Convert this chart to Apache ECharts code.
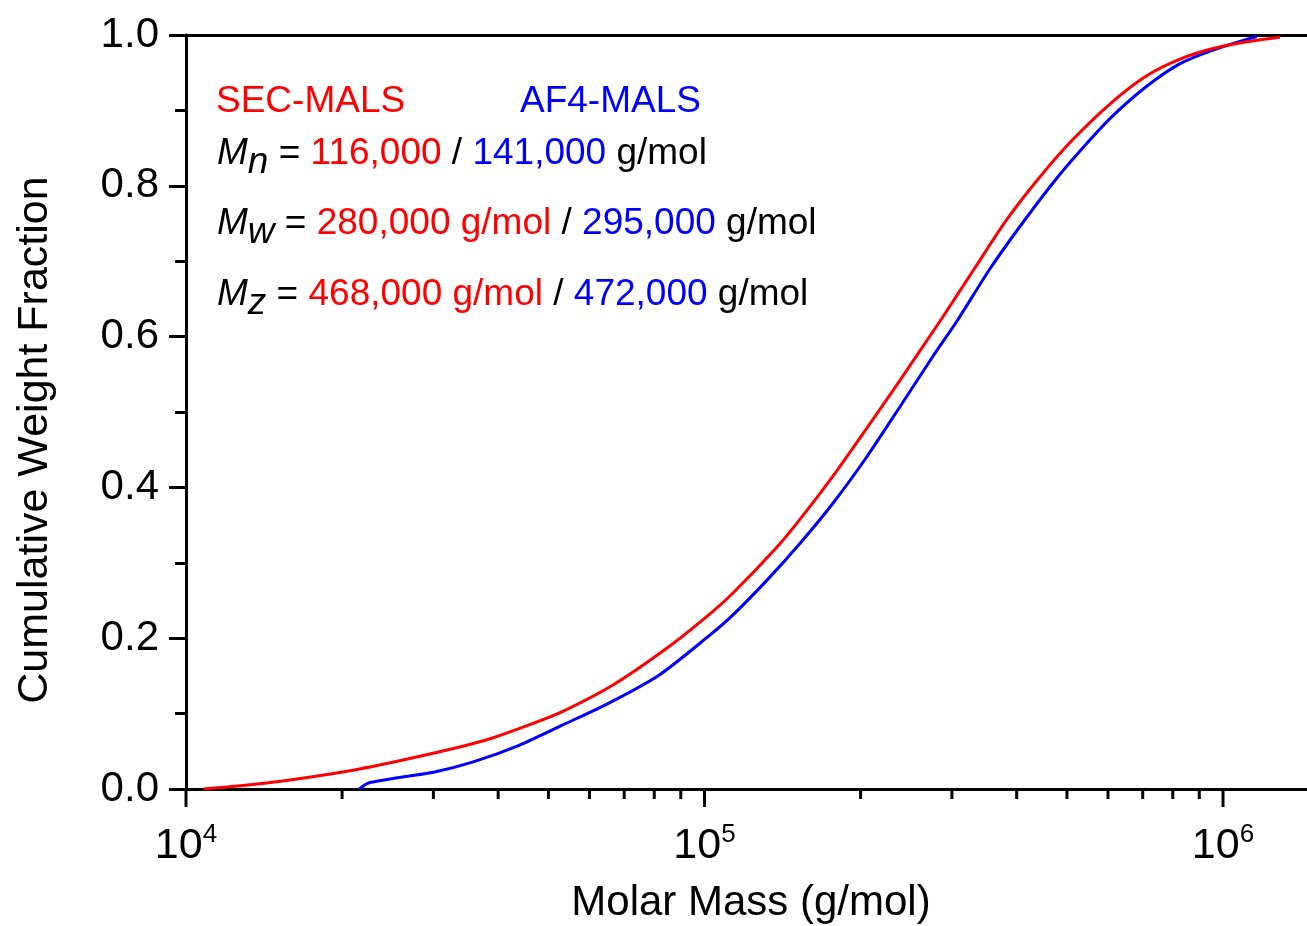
<!DOCTYPE html>
<html>
<head>
<meta charset="utf-8">
<script src="https://cdn.jsdelivr.net/npm/echarts@6/dist/echarts.min.js"></script>
<style>
html,body{margin:0;padding:0;background:#fff;}
#chart{width:1307px;height:926px;}
</style>
</head>
<body>
<div id="chart"></div>
<script>
// ---- data ----
const secMass = [10800, 14300, 21000, 28100, 37900, 46700, 53300, 66600, 84300, 100700, 113500, 138000, 152900, 176900, 205800, 238200, 286800, 330000, 382700, 443700, 514400, 613500, 712600, 826300, 956500, 1111000, 1288000];
const secFrac = [0, 0.008, 0.025, 0.043, 0.065, 0.087, 0.103, 0.138, 0.186, 0.228, 0.260, 0.321, 0.358, 0.415, 0.479, 0.542, 0.624, 0.688, 0.755, 0.812, 0.862, 0.912, 0.946, 0.968, 0.982, 0.991, 0.997];
const af4Mass = [21600, 22500, 30300, 35800, 43900, 53300, 65400, 81700, 100700, 113500, 132000, 152900, 176900, 205800, 238200, 275800, 306500, 355300, 411900, 477900, 545900, 613500, 712600, 826300, 956500, 1161000];
const af4Frac = [0, 0.008, 0.023, 0.036, 0.058, 0.085, 0.114, 0.151, 0.200, 0.231, 0.277, 0.326, 0.379, 0.441, 0.507, 0.574, 0.620, 0.690, 0.752, 0.810, 0.856, 0.893, 0.932, 0.962, 0.980, 0.998];
const majorTickValues = [10000, 100000, 1000000];
const minorTickValues = [20000, 30000, 40000, 50000, 60000, 70000, 80000, 90000, 200000, 300000, 400000, 500000, 600000, 700000, 800000, 900000];
const xMin = 10000, xMax = 1452000;
const yTickLabels = ['0.0', '0.2', '0.4', '0.6', '0.8', '1.0'];
const seriesNames = ['SEC-MALS', 'AF4-MALS'];
const statLines = [
  { sym: 'M', sub: 'n', sec: '116,000', af4: '141,000' },
  { sym: 'M', sub: 'w', sec: '280,000 g/mol', af4: '295,000' },
  { sym: 'M', sub: 'z', sec: '468,000 g/mol', af4: '472,000' }
];
const xTitle = 'Molar Mass (g/mol)';
const yTitle = 'Cumulative Weight Fraction';

// ---- styles ----
const FONT = '"Liberation Sans", Arial, Helvetica, sans-serif';
const RED = '#ff0000', BLUE = '#0000ff';

const chart = echarts.init(document.getElementById('chart'));

const annSize = 37;
function richStyles() {
  return {
    m: { fontFamily: FONT, fontSize: annSize, fontStyle: 'italic', fill: '#000', lineHeight: 54, color: '#000' },
    s: { fontFamily: FONT, fontSize: annSize, fontStyle: 'italic', fill: '#000', lineHeight: 26, verticalAlign: 'bottom', color: '#000' },
    k: { fontFamily: FONT, fontSize: annSize, fill: '#000', lineHeight: 54, color: '#000' },
    r: { fontFamily: FONT, fontSize: annSize, fill: RED, lineHeight: 54, color: RED },
    b: { fontFamily: FONT, fontSize: annSize, fill: BLUE, lineHeight: 54, color: BLUE }
  };
}
const lineY = [154, 224, 295];
const graphics = [
  { type: 'text', x: 216, y: 102, style: { text: seriesNames[0], fontFamily: FONT, fontSize: annSize, fill: RED, verticalAlign: 'middle', align: 'left' } },
  { type: 'text', x: 520, y: 102, style: { text: seriesNames[1], fontFamily: FONT, fontSize: annSize, fill: BLUE, verticalAlign: 'middle', align: 'left' } },
  { type: 'text', x: 35, y: 440, rotation: Math.PI / 2, style: { text: yTitle, fontFamily: FONT, fontSize: 43, fill: '#000', align: 'center', verticalAlign: 'middle' } },
  { type: 'text', x: 751, y: 903, style: { text: xTitle, fontFamily: FONT, fontSize: 42, fill: '#000', align: 'center', verticalAlign: 'middle' } }
];
statLines.forEach((l, i) => {
  graphics.push({
    type: 'text', x: 217, y: lineY[i],
    style: {
      text: '{m|' + l.sym + '}{s|' + l.sub + '}{k| = }{r|' + l.sec + '}{k| / }{b|' + l.af4 + '}{k| g/mol}',
      fontFamily: FONT, fontSize: annSize, fill: '#000',
      verticalAlign: 'middle', align: 'left',
      rich: richStyles()
    }
  });
});

function tickSeries(values, len) {
  return {
    type: 'custom', clip: false, silent: true, z: 5,
    data: values.map(v => [v, 0]),
    renderItem: function (params, api) {
      const p = api.coord([api.value(0), 0]);
      return { type: 'line', shape: { x1: p[0], y1: p[1], x2: p[0], y2: p[1] + len }, style: { stroke: '#000', lineWidth: 3 } };
    }
  };
}
function labelSeries(values) {
  return {
    type: 'custom', clip: false, silent: true, z: 5,
    data: values.map(v => [v, 0]),
    renderItem: function (params, api) {
      const v = api.value(0);
      const p = api.coord([v, 0]);
      return {
        type: 'text', x: p[0], y: p[1] + 57,
        style: {
          text: '{b|10}{sup|' + Math.round(Math.log10(v)) + '}',
          align: 'center', verticalAlign: 'middle',
          rich: {
            b: { fontFamily: FONT, fontSize: 43, lineHeight: 48, fill: '#000' },
            sup: { fontFamily: FONT, fontSize: 26, lineHeight: 26, verticalAlign: 'top', fill: '#000' }
          }
        }
      };
    }
  };
}

const option = {
  animation: false,
  backgroundColor: '#fff',
  grid: { left: 186, top: 35, bottom: 137, right: 0, show: false },
  xAxis: [{
    type: 'log', logBase: 10, min: xMin, max: xMax,
    axisLine: { show: true, lineStyle: { color: '#000', width: 3 } },
    axisTick: { show: false },
    splitLine: { show: false },
    axisLabel: { show: false }
  }, {
    type: 'log', logBase: 10, min: xMin, max: xMax, position: 'top',
    axisLine: { show: true, lineStyle: { color: '#000', width: 3 } },
    axisTick: { show: false }, splitLine: { show: false }, axisLabel: { show: false }
  }],
  yAxis: {
    type: 'value', min: 0, max: 1, interval: 0.2,
    axisLine: { show: true, lineStyle: { color: '#000', width: 3 } },
    axisTick: { show: true, length: 17, lineStyle: { color: '#000', width: 3 } },
    minorTick: { show: true, splitNumber: 2, length: 11, lineStyle: { color: '#000', width: 3 } },
    splitLine: { show: false },
    axisLabel: {
      margin: 27, color: '#000', fontFamily: FONT, fontSize: 42,
      formatter: function (v) { return yTickLabels[Math.round(v / 0.2)]; }
    }
  },
  series: [
    {
      name: seriesNames[1], type: 'line', showSymbol: false, smooth: 0.25,
      lineStyle: { color: BLUE, width: 3 }, itemStyle: { color: BLUE }, z: 3,
      data: af4Mass.map((m, i) => [m, af4Frac[i]])
    },
    {
      name: seriesNames[0], type: 'line', showSymbol: false, smooth: 0.25,
      lineStyle: { color: RED, width: 3 }, itemStyle: { color: RED }, z: 4,
      data: secMass.map((m, i) => [m, secFrac[i]])
    },
    tickSeries(majorTickValues, 18),
    tickSeries(minorTickValues, 10),
    labelSeries(majorTickValues)
  ],
  graphic: graphics
};
chart.setOption(option);
</script>
</body>
</html>
